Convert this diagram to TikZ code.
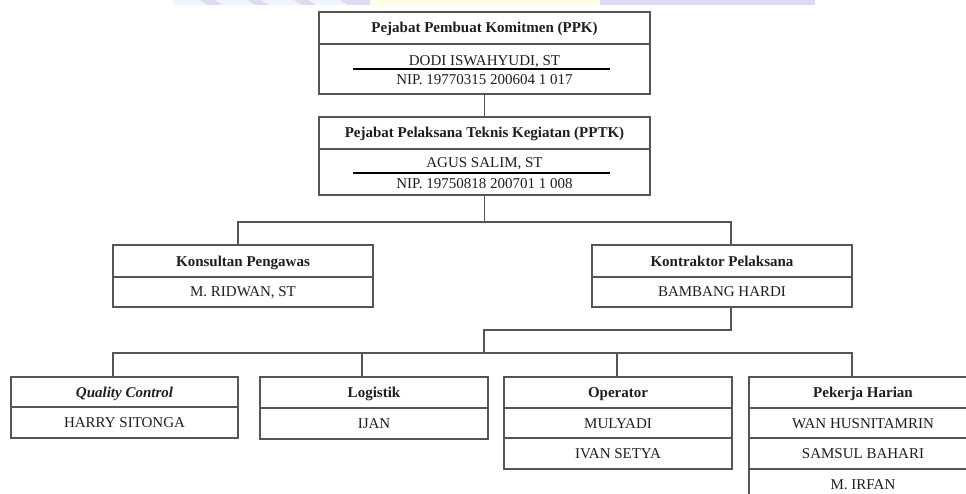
\documentclass[tikz,border=0pt]{standalone}
\usepackage{fontspec}
\setmainfont{Liberation Serif}
\usetikzlibrary{calc}
\definecolor{linegray}{HTML}{555555}
\definecolor{txt}{HTML}{1E1E1E}
\definecolor{wmblue}{HTML}{EEF5FC}
\definecolor{wmlav}{HTML}{DEDAF2}
\definecolor{wmyel}{HTML}{FFFDE6}
\tikzset{
  cell/.style={draw=linegray, line width=1.3pt, inner sep=0pt, outer sep=0pt, text height=10pt, text depth=0pt,
    font=\fontsize{15}{18}\selectfont, text=txt},
  hdr/.style={cell, font=\fontsize{15}{18}\selectfont\bfseries},
  w331/.style={minimum width=331pt},
  w260/.style={minimum width=260pt},
  w228/.style={minimum width=228pt},
  w227/.style={minimum width=227pt},
  txtline/.style={inner sep=0pt, anchor=base, font=\fontsize{15}{18}\selectfont, text=txt},
  conn/.style={draw=linegray, line width=1.3pt},
  uline/.style={draw=black, line width=2.4pt}
}
\begin{document}
\begin{tikzpicture}[x=1pt,y=-1pt]
\useasboundingbox (0,0) rectangle (966,494);
\clip (0,0) rectangle (966,494);
\fill[white] (0,0) rectangle (966,494);
% watermark remnants
\fill[wmblue] (173,0) rectangle (370,5);
\fill[wmyel] (370,0) rectangle (600,5);
\fill[wmlav] (600,0) rectangle (815,5);
\foreach \a in {200,247,294}{
  \fill[wmlav] (\a,0) -- (\a+14,0) -- (\a+22,5) -- (\a+8,5) -- cycle;
}
\fill[wmlav] (340,0) -- (370,0) -- (370,5) -- (348,5) -- cycle;

% PPK
\node[hdr, w331, minimum height=32pt, anchor=north west] (ppk) at (319,12) {Pejabat Pembuat Komitmen (PPK)};
\node[cell, w331, minimum height=50pt, anchor=north] (ppkb) at (ppk.south) {};
\node[txtline] (ppkname) at (484.5,66) {DODI ISWAHYUDI, ST};
\node[txtline] (ppknip) at (484.5,85) {NIP. 19770315 200604 1 017};
\draw[uline] (353,69) -- (610,69);

% PPTK
\node[hdr, w331, minimum height=32pt, anchor=north west] (pptk) at (319,117) {Pejabat Pelaksana Teknis Kegiatan (PPTK)};
\node[cell, w331, minimum height=46pt, anchor=north] (pptkb) at (pptk.south) {};
\node[txtline] (pptkname) at (484.5,168) {AGUS SALIM, ST};
\node[txtline] (pptknip) at (484.5,189) {NIP. 19750818 200701 1 008};
\draw[uline] (353,173) -- (610,173);

% Konsultan / Kontraktor
\node[hdr, w260, minimum height=32pt, anchor=north west] (kons) at (113,245) {Konsultan Pengawas};
\node[cell, w260, minimum height=30pt, anchor=north] (konsb) at (kons.south) {M. RIDWAN, ST};
\node[hdr, w260, minimum height=32pt, anchor=north west] (kont) at (592,245) {Kontraktor Pelaksana};
\node[cell, w260, minimum height=30pt, anchor=north] (kontb) at (kont.south) {BAMBANG HARDI};

% bottom row
\node[hdr, w227, minimum height=30pt, anchor=north west, font=\fontsize{15}{18}\selectfont\bfseries\itshape] (qc) at (11,377) {Quality Control};
\node[cell, w227, minimum height=31pt, anchor=north] (qcb) at (qc.south) {HARRY SITONGA};

\node[hdr, w228, minimum height=31pt, anchor=north west] (log) at (260,377) {Logistik};
\node[cell, w228, minimum height=31pt, anchor=north] (logb) at (log.south) {IJAN};

\node[hdr, w228, minimum height=31pt, anchor=north west] (op) at (504,377) {Operator};
\node[cell, w228, minimum height=30pt, anchor=north] (op1) at (op.south) {MULYADI};
\node[cell, w228, minimum height=31pt, anchor=north] (op2) at (op1.south) {IVAN SETYA};

\node[hdr, w228, minimum height=31pt, anchor=north west] (ph) at (749,377) {Pekerja Harian};
\node[cell, w228, minimum height=30pt, anchor=north] (ph1) at (ph.south) {WAN HUSNITAMRIN};
\node[cell, w228, minimum height=31pt, anchor=north] (ph2) at (ph1.south) {SAMSUL BAHARI};
\node[cell, w228, minimum height=31pt, anchor=north] (ph3) at (ph2.south) {M. IRFAN};

% connectors
\draw[conn] (ppkb.south) -- (pptk.north);
\coordinate (j1) at ($(pptkb.south)+(0,27)$);
\coordinate (konsc) at ($(kons.north)+(-5,0)$);
\coordinate (kontc) at ($(kont.north)+(9,0)$);
\draw[conn] (pptkb.south) -- (j1);
\draw[conn] (konsc) |- (j1) -| (kontc);

\coordinate (k1) at ($(kontb.south)+(9,0)$);
\coordinate (k2) at ($(k1)+(0,23)$);
\coordinate (j2) at (484,353);
\draw[conn] (k1) -- (k2) -| (j2);

\coordinate (qcc) at ($(qc.north)+(-11.5,0)$);
\coordinate (logc) at ($(log.north)+(-12,0)$);
\coordinate (opc) at ($(op.north)+(-1,0)$);
\coordinate (phc) at ($(ph.north)+(-11,0)$);
\draw[conn] (qcc) |- (j2) -| (phc);
\draw[conn] (logc) -- (logc |- j2);
\draw[conn] (opc) -- (opc |- j2);
\end{tikzpicture}
\end{document}
